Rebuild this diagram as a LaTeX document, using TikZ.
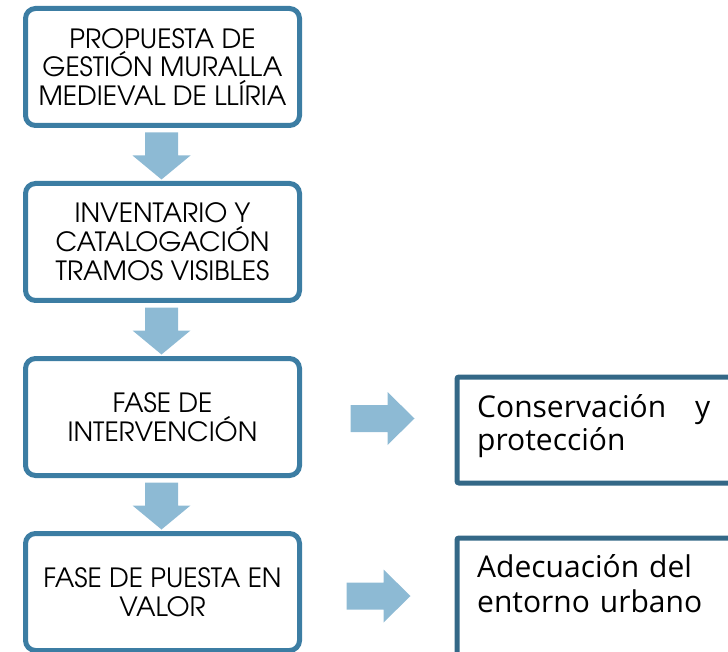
\documentclass[tikz,border=0pt]{standalone}
\usepackage{fontspec}
\setmainfont{TeX Gyre Adventor}
\newfontfamily\rightfont{Open Sans}
\usetikzlibrary{calc}
\definecolor{boxblue}{RGB}{60,125,163}
\definecolor{darkblue}{RGB}{52,104,135}
\definecolor{arrowblue}{RGB}{141,186,212}
\begin{document}
\begin{tikzpicture}[x=1pt,y=-1pt,
  stepbox/.style={draw=boxblue, line width=5pt, rounded corners=10pt,
    minimum width=274pt, minimum height=117pt, inner sep=0pt, align=center,
    font=\fontsize{26.5}{28.8}\selectfont, text=black},
  rbox/.style={draw=darkblue, line width=5pt, rounded corners=2pt,
    minimum width=300pt, inner sep=0pt, anchor=north west},
  rtext/.style={anchor=base west, inner sep=0pt, text width=233pt, align=left, text=black},
  downarrow/.pic={\fill[arrowblue] (-16.5,0) -- (16.5,0) -- (16.5,23) -- (29,23) -- (0,47)
      -- (-29,23) -- (-16.5,23) -- cycle;},
  rightarrow/.pic={\fill[arrowblue] (0,-13.5) -- (37,-13.5) -- (37,-26.5) -- (64,0)
      -- (37,26.5) -- (37,13.5) -- (0,13.5) -- cycle;}]
\useasboundingbox (0,0) rectangle (728,652);
\clip (0,0) rectangle (728,652);

\node[stepbox] (b1) at (162.5,67) {PROPUESTA DE\\GESTIÓN MURALLA\\MEDIEVAL DE LLÍRIA};
\node[stepbox] (b2) at (162.5,242) {INVENTARIO Y\\CATALOGACIÓN\\TRAMOS VISIBLES};
\node[stepbox] (b3) at (162.5,417) {FASE DE\\INTERVENCIÓN};
\node[stepbox] (b4) at (162.5,592) {FASE DE PUESTA EN\\VALOR};

\pic at ($(b1.south)+(-1,4.5)$) {downarrow};
\pic at ($(b2.south)+(-1,4.5)$) {downarrow};
\pic at ($(b3.south)+(-1,4.5)$) {downarrow};

\node[rbox, minimum height=106pt] (r1) at (454.5,374.5) {};
\node[rbox, minimum height=150pt] (r2) at (454.5,535.5) {};

\pic at ($(b3.east)+(48.5,1.5)$) {rightarrow};
\pic at ($(b4.east)+(44.5,4)$) {rightarrow};

\node[rtext, font=\rightfont\fontsize{30}{33}\selectfont] (t1) at (477,417)
  {Conservación\hfill y\\protección};
\node[rtext, font=\rightfont\fontsize{30}{35}\selectfont] (t2) at (477,577)
  {Adecuación del\\entorno urbano};
\end{tikzpicture}
\end{document}
